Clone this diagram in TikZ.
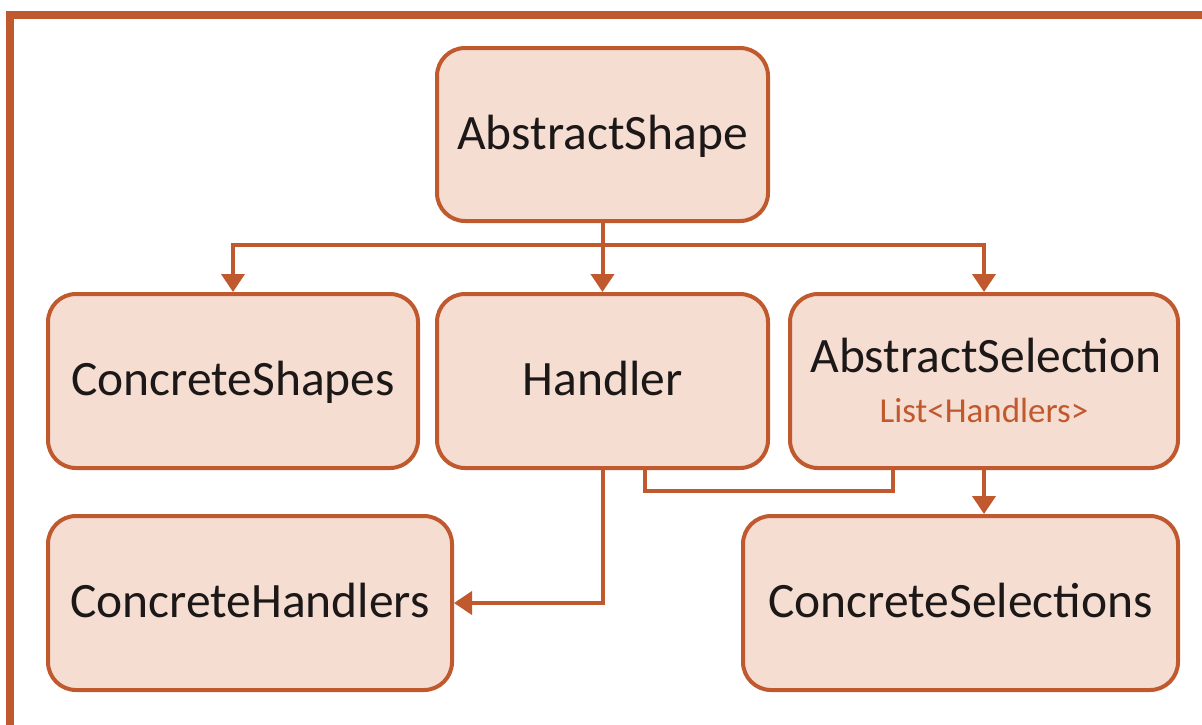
\documentclass[tikz,border=0pt]{standalone}
\usepackage{fontspec}
\setmainfont{Carlito}
\usetikzlibrary{arrows.meta}

\definecolor{rust}{RGB}{192,89,46}
\definecolor{peach}{RGB}{246,221,210}
\definecolor{ink}{RGB}{28,24,24}

\tikzset{
  box/.style={draw=rust, fill=peach, line width=4pt, rounded corners=28pt,
    rectangle, inner sep=0pt, text=ink,
    font=\fontsize{49.5}{59}\selectfont,
    text height=35pt, text depth=6pt},
  conn/.style={draw=rust, line width=4pt},
  tip/.style={-{Triangle[width=23pt,length=18pt]}},
  frameline/.style={draw=rust, line width=8pt}
}

\begin{document}
\begin{tikzpicture}[x=1pt, y=-1pt]
  \useasboundingbox (0,0) rectangle (1202,724);

  % outer frame, only top and left sides fall inside the page
  \draw[frameline] (10,730) -- (10,15) -- (1210,15);

  % class boxes
  \node[box, minimum width=331pt, minimum height=173pt] (shape)    at (602.5,134.5) {AbstractShape};
  \node[box, minimum width=370pt, minimum height=174pt] (cshapes)  at (233,381)     {ConcreteShapes};
  \node[box, minimum width=331pt, minimum height=174pt] (handler)  at (602.5,381)   {Handler};
  \node[box, minimum width=388pt, minimum height=174pt] (asel)     at (984,381)     {};
  \node[box, minimum width=404pt, minimum height=174pt] (chand)    at (250,603)     {ConcreteHandlers};
  \node[box, minimum width=435pt, minimum height=174pt] (csel)     at (960.5,603)   {ConcreteSelections};

  % two-line label of AbstractSelection
  \node[anchor=base, inner sep=0pt, text=ink, font=\fontsize{49.5}{59}\selectfont]
    (aselname) at (986,372) {AbstractSelection};
  \node[anchor=base, inner sep=0pt, text=rust, font=\fontsize{35}{42}\selectfont]
    (asellist) at (984,422) {List<Handlers>};

  % inheritance from AbstractShape
  \draw[conn] (shape.south) -- (602.5,245) coordinate (hub);
  \draw[conn, tip] (hub) -| (cshapes.north);
  \draw[conn, tip] (hub) -- (handler.north);
  \draw[conn, tip] (hub) -| (asel.north);

  % Handler to ConcreteHandlers
  \draw[conn, tip] (handler.south) |- (chand.east);

  % Handler held by AbstractSelection's list
  \draw[conn] ([xshift=42.5pt]handler.south) -- ++(0,21) -| ([xshift=-91pt]asel.south);

  % AbstractSelection to ConcreteSelections
  \draw[conn, tip] (asel.south) -- (asel.south |- csel.north);
\end{tikzpicture}
\end{document}
